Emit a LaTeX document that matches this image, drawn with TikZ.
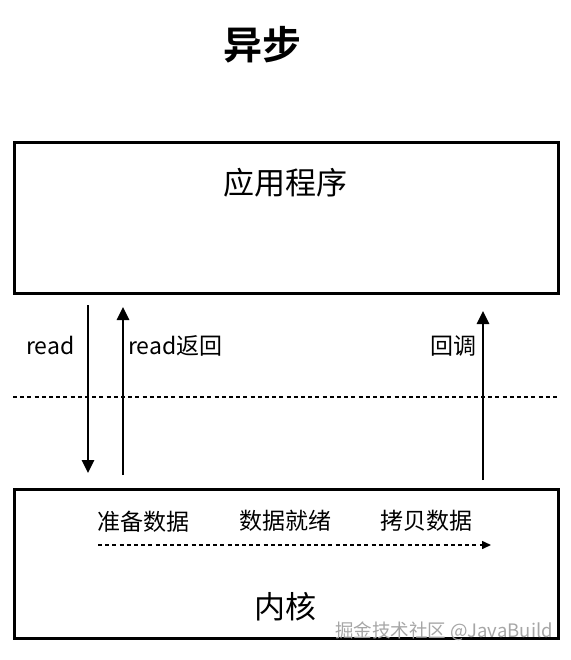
\documentclass[tikz,border=0pt]{standalone}
\usepackage{fontspec}
\setmainfont{Noto Sans CJK SC}
\newfontfamily\cjkbold{Noto Sans CJK SC Bold}
\usetikzlibrary{arrows.meta}
\begin{document}
\begin{tikzpicture}[x=1pt,y=-1pt,
  box/.style={draw, line width=3pt, minimum width=544pt, anchor=north west, inner sep=0pt},
  lbl/.style={font=\fontsize{23}{23}\selectfont, inner sep=0pt},
  big/.style={font=\fontsize{31}{31}\selectfont, inner sep=0pt},
  arr/.style={line width=2.8pt, -{Triangle[length=13pt,width=12pt]}},
  darr/.style={line width=1.5pt, dash pattern=on 4pt off 3.2pt, -{Triangle[length=9pt,width=8pt]}}]
\useasboundingbox (0,0) rectangle (570,660);
\node[font=\cjkbold\fontsize{39}{39}\selectfont, inner sep=0pt] (title) at (262,45) {异步};
\node[box, minimum height=151pt] (app) at (13,141) {};
\node[box, minimum height=149pt] (kern) at (13,488) {};
\node[big] (appt) at (285,183) {应用程序};
\node[big] (kernt) at (285,607) {内核};
\coordinate (r1) at (88,305); \coordinate (r2) at (88,473);
\coordinate (b1) at (123,475); \coordinate (b2) at (123,307);
\coordinate (c1) at (483,480); \coordinate (c2) at (483,311);
\draw[arr] (r1) -- (r2);
\draw[arr] (b1) -- (b2);
\draw[arr] (c1) -- (c2);
\node[lbl, anchor=west] (lread) at (26,345) {read};
\node[lbl, anchor=west] (lret) at (128,346) {read返回};
\node[lbl, anchor=east] (lcb) at (477,346) {回调};
\coordinate (d1) at (13,397); \coordinate (d2) at (557,397);
\draw[line width=1.5pt, dash pattern=on 4pt off 3.2pt] (d1) -- (d2);
\node[lbl] (s1) at (143,522) {准备数据};
\node[lbl] (s2) at (285,521) {数据就绪};
\node[lbl] (s3) at (426,521) {拷贝数据};
\coordinate (e1) at (98,545); \coordinate (e2) at (491,545);
\draw[darr] (e1) -- (e2);
\node[font=\fontsize{18.5}{18.5}\selectfont, text=black!35, anchor=east, inner sep=0pt] (wm) at (553,631) {掘金技术社区 @JavaBuild};
\end{tikzpicture}
\end{document}
